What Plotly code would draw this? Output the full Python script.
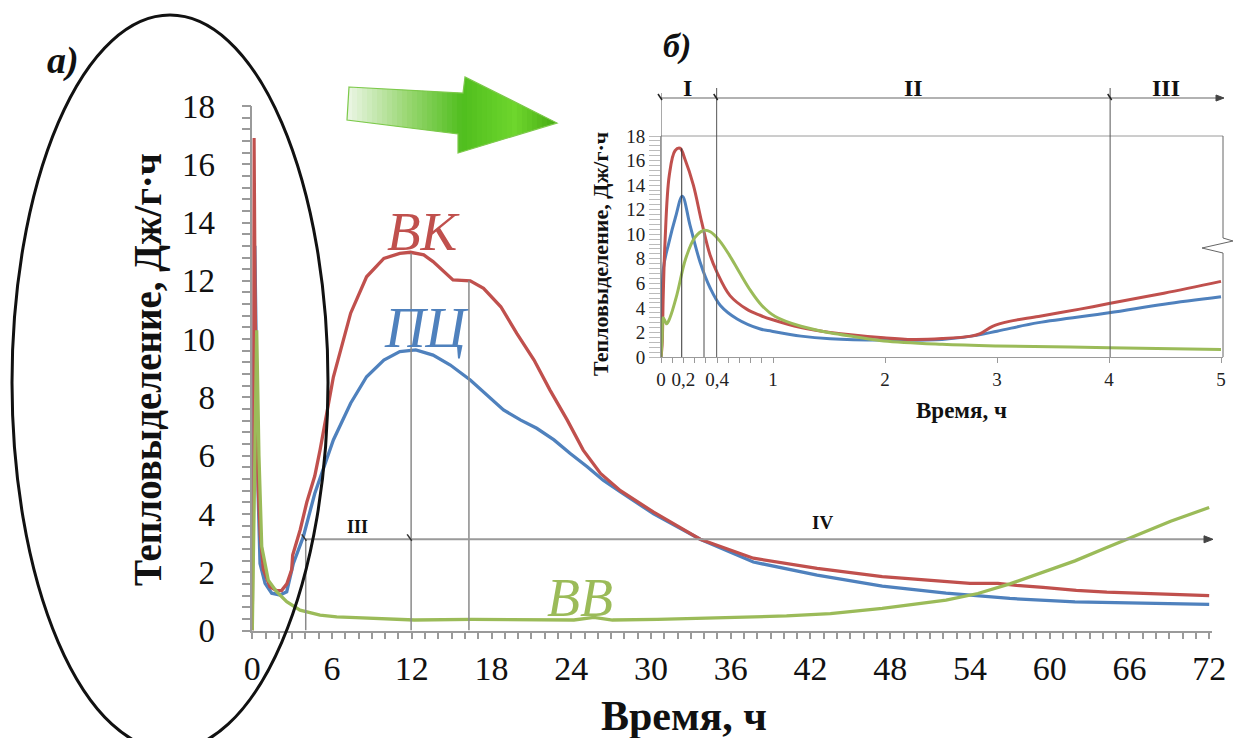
import plotly.graph_objects as go

W, H = 1234, 738


def px(x):
    return x / W


def py(y):
    return 1 - y / H


# ---------------- main chart data (time, h ; heat, J/g·h) ----------------
vk_t = [0, 0.05, 0.13, 0.2, 0.3, 0.45, 0.6, 0.83, 1.33, 1.83, 2.2, 2.6, 2.96, 3.04, 3.6, 4.1, 4.7, 5.1,
        6.1, 7.4, 8.6, 9.9, 11.1, 11.9, 12.9, 13.6, 14.4, 15.1, 16.4, 17.4, 18.7, 19.9, 21.2, 22.4,
        23.7, 24.9, 26.2, 27.7, 30.2, 33.7, 37.7, 42.5, 47.4, 52.2, 54.0, 56.1, 57.5, 59.5, 62.0,
        64.3, 66.7, 69.1, 72.0]
vk_v = [0, 8.0, 16.9, 12.0, 7.5, 4.8, 3.3, 2.1, 1.5, 1.37, 1.37, 1.6, 2.08, 2.59, 3.45, 4.4, 5.3, 6.2,
        8.7, 10.89, 12.14, 12.77, 12.94, 12.98, 12.89, 12.66, 12.31, 12.03, 12.0, 11.74, 11.11, 10.2,
        9.28, 8.25, 7.22, 6.19, 5.39, 4.8, 4.06, 3.13, 2.48, 2.13, 1.85, 1.67, 1.62, 1.62, 1.55, 1.48,
        1.38, 1.32, 1.28, 1.22, 1.2]

pc_t = [0, 0.05, 0.19, 0.3, 0.45, 0.58, 0.96, 1.46, 2.08, 2.59, 3.09, 3.84, 4.7, 6.1, 7.4, 8.6, 9.9,
        11.1, 12.3, 13.6, 14.9, 16.4, 17.7, 18.9, 20.2, 21.4, 22.7, 23.9, 25.2, 26.4, 27.7, 30.2, 33.7,
        37.7, 42.5, 47.4, 52.2, 57.0, 61.9, 66.7, 72.0]
pc_v = [0, 7.0, 13.2, 8.5, 4.5, 2.3, 1.62, 1.28, 1.22, 1.33, 2.3, 3.22, 4.7, 6.54, 7.8, 8.71, 9.28,
        9.57, 9.63, 9.45, 9.11, 8.6, 8.08, 7.57, 7.22, 6.94, 6.54, 6.08, 5.62, 5.16, 4.76, 4.0, 3.13,
        2.35, 1.9, 1.52, 1.28, 1.1, 0.98, 0.95, 0.9]

vv_t = [0, 0.08, 0.33, 0.5, 0.71, 1.2, 1.83, 2.59, 3.59, 5.1, 6.35, 7.8, 12.2, 16.5, 20.8, 24.2,
        25.7, 27.1, 30.5, 35.3, 40.2, 43.5, 47.4, 52.2, 54.6, 57.0, 59.5, 61.9, 64.3, 66.7, 69.1, 72.0]
vv_v = [0, 3.0, 10.3, 6.0, 2.88, 1.73, 1.33, 0.99, 0.70, 0.53, 0.47, 0.44, 0.36, 0.38, 0.36, 0.36,
        0.45, 0.36, 0.38, 0.45, 0.5, 0.58, 0.76, 1.04, 1.27, 1.6, 1.99, 2.39, 2.85, 3.3, 3.75, 4.22]

# ---------------- inset data (first 5 hours) ----------------
in_vk_t = [0, 0.01, 0.02, 0.036, 0.074, 0.125, 0.17, 0.214, 0.289, 0.363, 0.438, 0.5, 0.616, 0.765,
           0.884, 0.99, 1.25, 1.51, 1.99, 2.25, 2.51, 2.77, 2.85, 2.96, 3.11, 3.37, 3.74, 4.0, 4.49, 5.0]
in_vk_v = [0, 1.0, 5.0, 9.4, 14.8, 16.8, 17.0, 16.1, 14.0, 11.0, 8.3, 6.9, 5.0, 3.9, 3.4, 3.05, 2.4,
           2.0, 1.57, 1.43, 1.5, 1.7, 1.9, 2.5, 2.9, 3.3, 3.9, 4.35, 5.2, 6.16]

in_pc_t = [0, 0.01, 0.021, 0.07, 0.13, 0.19, 0.26, 0.35, 0.44, 0.53, 0.68, 0.88, 0.99, 1.25, 1.51,
           1.99, 2.51, 2.77, 3.0, 3.37, 4.0, 4.49, 5.0]
in_pc_v = [0, 2.5, 7.2, 9.3, 11.4, 13.1, 10.7, 7.7, 5.6, 4.2, 3.1, 2.3, 2.1, 1.7, 1.49, 1.38, 1.43,
           1.7, 2.1, 2.8, 3.6, 4.3, 4.9]

in_vv_t = [0, 0.01, 0.02, 0.05, 0.08, 0.14, 0.22, 0.3, 0.38, 0.44, 0.52, 0.61, 0.7, 0.8, 0.9, 1.02,
           1.25, 1.51, 1.73, 1.99, 2.51, 3.0, 4.0, 5.0]
in_vv_v = [0, 1.5, 3.2, 2.7, 3.2, 5.0, 8.0, 9.7, 10.3, 10.2, 9.5, 8.3, 6.9, 5.4, 4.2, 3.3, 2.5, 1.97,
           1.65, 1.3, 1.03, 0.9, 0.76, 0.62]

inset_tickvals = [0, 0.1, 0.2, 0.3, 0.4, 0.5, 0.6, 0.7, 0.8, 0.9, 1, 2, 3, 4, 5]
inset_ticktext = ["0", "", "0,2", "", "", "0,4", "", "", "", "", "1", "2", "3", "4", "5"]

RED, BLUE, GREEN = "#c0504d", "#4f81bd", "#9bbb59"
SERIF = "Liberation Serif"
GRAY = "#9a9a9a"

fig = go.Figure()

for t, v, c in [(pc_t, pc_v, BLUE), (vk_t, vk_v, RED), (vv_t, vv_v, GREEN)]:
    fig.add_trace(go.Scatter(x=t, y=v, mode="lines", line=dict(color=c, width=3.3),
                             xaxis="x", yaxis="y", showlegend=False, hoverinfo="skip"))
for t, v, c in [(in_pc_t, in_pc_v, BLUE), (in_vk_t, in_vk_v, RED), (in_vv_t, in_vv_v, GREEN)]:
    fig.add_trace(go.Scatter(x=t, y=v, mode="lines", line=dict(color=c, width=3, shape="spline"),
                             xaxis="x2", yaxis="y2", showlegend=False, hoverinfo="skip"))

x_main_max = (1212 - 252.3) / 13.29
x_in_max = (1223 - 661) / 112.0

fig.update_layout(
    template="none",
    width=W, height=H, autosize=False, margin=dict(l=0, r=0, t=0, b=0, pad=0),
    paper_bgcolor="white", plot_bgcolor="white",
    xaxis=dict(domain=[px(252.3), px(1212)], range=[0, x_main_max], tickmode="linear",
               tick0=0, dtick=6, ticks="outside", ticklen=7, tickcolor=GRAY, tickwidth=1.5,
               minor=dict(dtick=1, tick0=0, ticks="outside", ticklen=7, tickcolor=GRAY, tickwidth=1.5),
               showline=True, linecolor=GRAY, linewidth=1.5, showgrid=False, zeroline=False,
               tickfont=dict(family=SERIF, size=34, color="#111"), anchor="y", automargin=False),
    yaxis=dict(domain=[py(630.5), py(106)], range=[0, 18], tickmode="linear", dtick=2, tick0=0,
               ticks="outside", ticklen=9, tickcolor=GRAY, tickwidth=1.5,
               minor=dict(dtick=0.4, tick0=0, ticks="outside", ticklen=9, tickcolor=GRAY, tickwidth=1.5),
               showline=True, linecolor=GRAY, linewidth=1.5, showgrid=False, zeroline=False,
               tickfont=dict(family=SERIF, size=33, color="#111"), ticklabelstandoff=20,
               anchor="x", automargin=False),
    xaxis2=dict(domain=[px(661), px(1223)], range=[0, x_in_max], tickmode="array",
                tickvals=inset_tickvals, ticktext=inset_ticktext, ticks="outside", ticklen=5,
                tickcolor=GRAY, showline=True, linecolor=GRAY, linewidth=1, showgrid=False,
                zeroline=False, tickfont=dict(family=SERIF, size=19, color="#222"), anchor="y2",
                automargin=False),
    yaxis2=dict(domain=[py(357), py(136)], range=[0, 18], tickmode="linear", dtick=2, tick0=0,
                ticks="outside", ticklen=11, tickcolor="#bbb",
                minor=dict(dtick=0.4, tick0=0, ticks="outside", ticklen=11, tickcolor="#bbb"),
                showline=True, linecolor=GRAY, linewidth=1, showgrid=False, zeroline=False,
                tickfont=dict(family=SERIF, size=19, color="#222"), anchor="x2", automargin=False),
)

shapes = []


# ---- decorative green arrow: horizontal gradient made of clipped slices ----
def clip_x(poly, lo, hi):
    def clip(points, inside, inter):
        out = []
        n = len(points)
        for i in range(n):
            cur, prev = points[i], points[i - 1]
            if inside(cur):
                if not inside(prev):
                    out.append(inter(prev, cur))
                out.append(cur)
            elif inside(prev):
                out.append(inter(prev, cur))
        return out

    def ix(xc):
        def f(a, b):
            t = (xc - a[0]) / (b[0] - a[0])
            return (xc, a[1] + t * (b[1] - a[1]))
        return f

    p = clip(poly, lambda q: q[0] >= lo, ix(lo))
    if not p:
        return p
    return clip(p, lambda q: q[0] <= hi, ix(hi))


def mix(c1, c2, f):
    return "#%02x%02x%02x" % tuple(int(round(c1[i] + (c2[i] - c1[i]) * f)) for i in range(3))


arrow = [(349, 87), (463, 93), (465, 77), (557, 123), (458, 153), (458, 134), (347, 120)]
stops = [(0.0, (236, 246, 230)), (0.3, (150, 214, 110)), (0.55, (80, 190, 30)),
         (0.8, (110, 214, 45)), (1.0, (70, 170, 20))]
x_lo, x_hi = 347, 557
nslice = 42
for k in range(nslice):
    a = x_lo + (x_hi - x_lo) * k / nslice
    b = x_lo + (x_hi - x_lo) * (k + 1) / nslice + 0.6
    poly = clip_x(arrow, a, b)
    if len(poly) < 3:
        continue
    f = (k + 0.5) / nslice
    col = mix(stops[0][1], stops[1][1], 0)
    for j in range(len(stops) - 1):
        if stops[j][0] <= f <= stops[j + 1][0]:
            g = (f - stops[j][0]) / (stops[j + 1][0] - stops[j][0])
            col = mix(stops[j][1], stops[j + 1][1], g)
            break
    path = "M " + " L ".join(f"{px(x):.5f},{py(y):.5f}" for x, y in poly) + " Z"
    shapes.append(dict(type="path", xref="paper", yref="paper", path=path, fillcolor=col,
                       line=dict(width=0), layer="below"))
shapes.append(dict(type="path", xref="paper", yref="paper",
                   path="M " + " L ".join(f"{px(x):.5f},{py(y):.5f}" for x, y in arrow) + " Z",
                   line=dict(color="#7cc94a", width=1.2)))

# main chart vertical markers and region line
for t, top in [(4.02, 3.13), (11.95, 12.95), (16.3, 12.0)]:
    shapes.append(dict(type="line", xref="x", yref="y", x0=t, x1=t, y0=0, y1=top,
                       line=dict(color="#8a8a8a", width=1.5)))
shapes.append(dict(type="line", xref="x", yref="y", x0=4.02, x1=x_main_max - 0.2, y0=3.13, y1=3.13,
                   line=dict(color=GRAY, width=2)))
for t in [4.02, 11.95]:
    shapes.append(dict(type="line", xref="x", yref="y", x0=t - 0.3, x1=t + 0.05, y0=3.3, y1=3.08,
                       line=dict(color="#333", width=1.5)))
shapes.append(dict(type="path", xref="paper", yref="paper",
                   path=(f"M {px(1204)},{py(535.8)} L {px(1213)},{py(539.3)} "
                         f"L {px(1204)},{py(542.8)} Z"),
                   fillcolor="#444", line=dict(color="#444", width=1)))

# inset frame: top line and broken right border
shapes.append(dict(type="line", xref="paper", yref="paper", x0=px(661), x1=px(1223), y0=py(136), y1=py(136),
                   line=dict(color=GRAY, width=1)))
shapes.append(dict(type="path", xref="paper", yref="paper",
                   path=(f"M {px(1223)},{py(136)} L {px(1223)},{py(238)} L {px(1233)},{py(241)} "
                         f"L {px(1202)},{py(248)} L {px(1223)},{py(253)} L {px(1223)},{py(357)}"),
                   line=dict(color="#666", width=1)))
# inset vertical markers
for t, ytop in [(0.0, 93), (0.497, 88), (4.01, 88)]:
    shapes.append(dict(type="line", xref="x2", yref="paper", x0=t, x1=t, y0=py(357), y1=py(ytop),
                       line=dict(color="#555", width=1)))
shapes.append(dict(type="line", xref="x2", yref="y2", x0=0.185, x1=0.185, y0=0, y1=17.0,
                   line=dict(color="#333", width=1)))
shapes.append(dict(type="line", xref="x2", yref="y2", x0=0.384, x1=0.384, y0=0, y1=10.3,
                   line=dict(color="#888", width=1.5)))
# inset region line
shapes.append(dict(type="line", xref="paper", yref="paper", x0=px(661), x1=px(1222), y0=py(98), y1=py(98),
                   line=dict(color="#666", width=1.2)))
for xp in [661, 716.7, 1110.7]:
    shapes.append(dict(type="line", xref="paper", yref="paper", x0=px(xp - 3), x1=px(xp + 1),
                       y0=py(94), y1=py(100), line=dict(color="#222", width=1.5)))
shapes.append(dict(type="path", xref="paper", yref="paper",
                   path=f"M {px(1216)},{py(95)} L {px(1224)},{py(98)} L {px(1216)},{py(101)} Z",
                   fillcolor="#444", line=dict(color="#444", width=1)))
# ellipse around the y axis
shapes.append(dict(type="circle", xref="paper", yref="paper", x0=px(12), x1=px(328), y0=py(750), y1=py(15),
                   line=dict(color="#111", width=3), layer="above"))

fig.update_layout(shapes=shapes)


def txt(x, y, s, size, color="#111", bold=False, italic=False, angle=0):
    return dict(x=px(x), y=py(y), xref="paper", yref="paper", text=s, showarrow=False,
                textangle=angle, xanchor="center", yanchor="middle",
                font=dict(family=SERIF, size=size, color=color,
                          weight="bold" if bold else "normal",
                          style="italic" if italic else "normal"))


annotations = [
    txt(63, 60, "а)", 38, bold=True, italic=True),
    txt(677, 46, "б)", 34, bold=True, italic=True),
    txt(424, 232, "ВК", 55, color=RED, italic=True),
    txt(426, 328, "ПЦ", 56, color=BLUE, italic=True),
    txt(580, 598, "ВВ", 54, color=GREEN, italic=True),
    txt(148, 370, "Тепловыделение, Дж/г·ч", 39, bold=True, angle=-90),
    txt(684, 716, "Время, ч", 42, bold=True),
    txt(357, 527, "III", 18, bold=True),
    txt(822, 522, "IV", 19, bold=True),
    txt(687, 88, "I", 24, bold=True),
    txt(913, 88, "II", 24, bold=True),
    txt(1166, 88, "III", 24, bold=True),
    txt(600, 254, "Тепловыделение, Дж/г·ч", 22, bold=True, angle=-90),
    txt(962, 410, "Время, ч", 23, bold=True),
]
fig.update_layout(annotations=annotations)

fig.write_html("out.html", config={"displayModeBar": False, "responsive": False},
               post_script="document.body.style.margin='0';document.body.style.overflow='hidden';")
